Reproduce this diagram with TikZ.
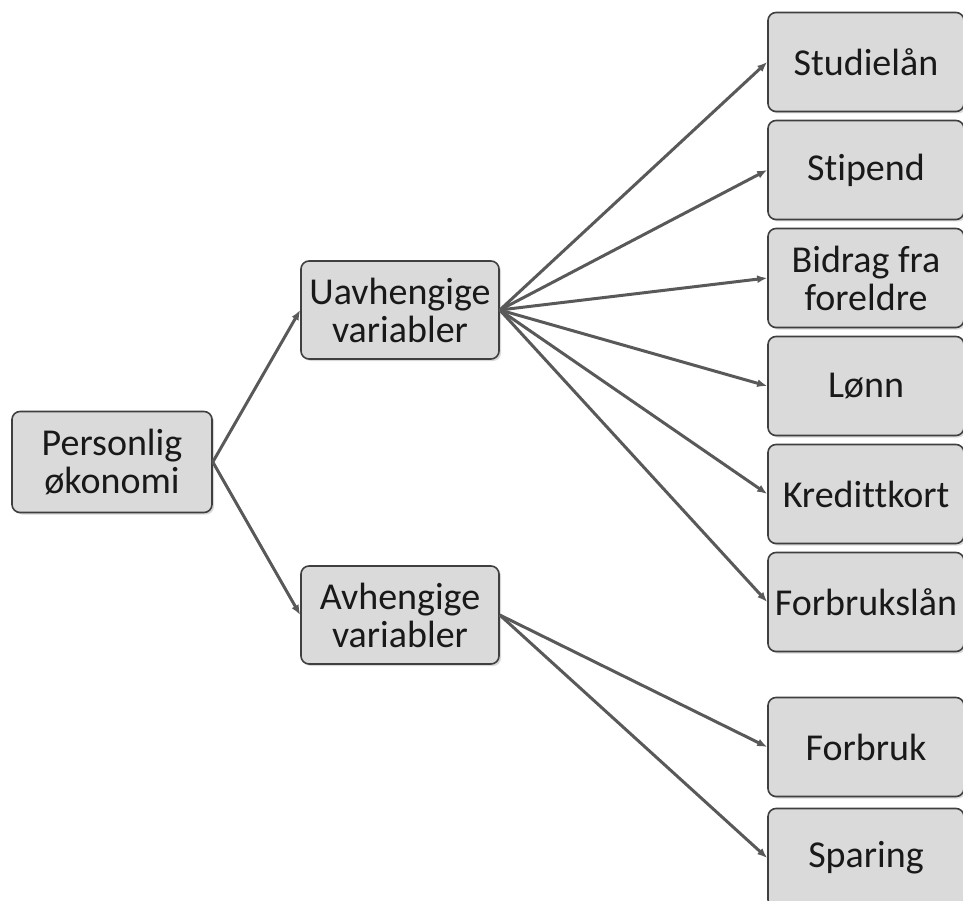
\documentclass[tikz,border=0pt]{standalone}
\usepackage{fontspec}
\setmainfont[Ligatures=NoCommon]{Carlito}
\usetikzlibrary{shadows}
\usetikzlibrary{arrows.meta}

\definecolor{boxfill}{HTML}{DADADA}
\definecolor{boxline}{HTML}{3F3F3F}
\definecolor{linkgray}{HTML}{595959}

\begin{document}
\begin{tikzpicture}
	[x=1pt, y=1pt, node distance={108pt},
	 main/.style = {draw=boxline, fill=boxfill, rounded corners=8pt, line width=1.6pt,
	   minimum width=198pt, minimum height=98pt, align=center, text=black!90,
	   font=\fontsize{38}{38}\selectfont,
	   drop shadow={opacity=0.3, shadow xshift=2pt, shadow yshift=-2pt}},
	 leaf/.style = {main, minimum width=196pt, minimum height=99pt},
	 link/.style = {-{Latex[length=10pt, width=8pt]}, draw=linkgray, line width=3pt}]
	\useasboundingbox (0,0) rectangle (963,-901);
	\node[main, minimum width=200pt, minimum height=101pt] (1) at (112,-462) {Personlig\\økonomi};
	\node[main] (2) [node distance={288pt}, right of = 1, yshift=152pt] {Uavhengige\\variabler};
	\node[main] (3) [node distance={288pt}, right of = 1, yshift=-153pt] {Avhengige\\variabler};
	% uavhengige
	\node[leaf] (4) [node distance={466pt}, right of = 2, yshift=248pt] {Studielån};
	\node[leaf] (5) [below of = 4] {Stipend};
	\node[leaf] (6) [below of = 5] {Bidrag fra\\foreldre};
	\node[leaf] (7) [below of = 6] {Lønn};
	\node[leaf] (8) [below of = 7] {Kredittkort};
	\node[leaf] (9) [below of = 8] {Forbrukslån};
	% avhengige
	\node[leaf] (10) [node distance={466pt}, right of = 3, yshift=-132pt] {Forbruk};
	\node[leaf] (11) [below of = 10, yshift=-3pt] {Sparing};
	\draw[link] (1.east) -- (2.west);
	\draw[link] (1.east) -- (3.west);
	\draw[link] (2.east) -- (4.west);
	\draw[link] (2.east) -- (5.west);
	\draw[link] (2.east) -- (6.west);
	\draw[link] (2.east) -- (7.west);
	\draw[link] (2.east) -- (8.west);
	\draw[link] (2.east) -- (9.west);
	\draw[link] (3.east) -- (10.west);
	\draw[link] (3.east) -- (11.west);
\end{tikzpicture}
\end{document}
